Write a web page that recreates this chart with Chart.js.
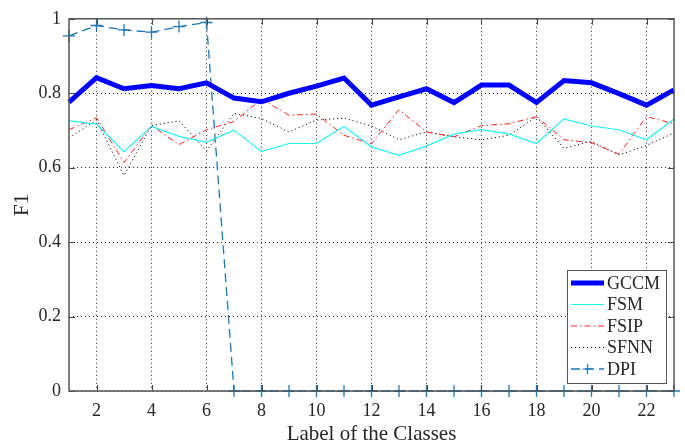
<!DOCTYPE html>
<html>
<head>
<meta charset="utf-8">
<script src="https://cdn.jsdelivr.net/npm/chart.js@4.4.0/dist/chart.umd.min.js"></script>
<style>
  html, body { margin: 0; padding: 0; background: #fff; }
  #wrap { width: 685px; height: 445px; }
</style>
</head>
<body>
<div id="wrap"><canvas id="f1-chart" width="685" height="445"></canvas></div>
<script>
// F1 per class
const classes = [1, 2, 3, 4, 5, 6, 7, 8, 9, 10, 11, 12, 13, 14, 15, 16, 17, 18, 19, 20, 21, 22, 23];
const gccm = [0.776, 0.842, 0.812, 0.821, 0.812, 0.828, 0.787, 0.777, 0.800, 0.819, 0.841, 0.768, 0.790, 0.812, 0.775, 0.822, 0.822, 0.775, 0.834, 0.828, 0.799, 0.768, 0.809];
const fsm = [0.726, 0.717, 0.643, 0.711, 0.684, 0.668, 0.701, 0.643, 0.665, 0.665, 0.711, 0.656, 0.633, 0.658, 0.690, 0.702, 0.691, 0.665, 0.731, 0.712, 0.702, 0.675, 0.731];
const fsip = [0.702, 0.734, 0.614, 0.713, 0.662, 0.702, 0.724, 0.784, 0.741, 0.744, 0.687, 0.664, 0.756, 0.696, 0.683, 0.713, 0.718, 0.737, 0.675, 0.667, 0.636, 0.737, 0.718];
const sfnn = [0.680, 0.728, 0.579, 0.713, 0.726, 0.645, 0.746, 0.732, 0.696, 0.728, 0.733, 0.712, 0.675, 0.696, 0.683, 0.675, 0.687, 0.737, 0.652, 0.671, 0.634, 0.660, 0.693];
const dpi = [0.954, 0.982, 0.970, 0.964, 0.979, 0.990, 0, 0, 0, 0, 0, 0, 0, 0, 0, 0, 0, 0, 0, 0, 0, 0, 0];

const xTicks = [2, 4, 6, 8, 10, 12, 14, 16, 18, 20, 22];
const yTicks = [0, 0.2, 0.4, 0.6, 0.8, 1];

const serif = "'Liberation Serif', 'DejaVu Serif', serif";
const textColor = '#262626';

function points(values) {
    return classes.map((c, i) => ({ x: c, y: values[i] }));
}

// box round the plot, inward ticks, and the legend in the lower right
const framePlugin = {
    id: 'frame',
    afterDraw(chart) {
        const ctx = chart.ctx;
        const a = chart.chartArea;
        const xs = chart.scales.x;
        const ys = chart.scales.y;
        ctx.save();
        ctx.strokeStyle = '#444';
        ctx.lineWidth = 1;
        ctx.beginPath();
        xTicks.forEach(t => {
            const px = Math.round(xs.getPixelForValue(t)) + 0.5;
            ctx.moveTo(px, a.bottom); ctx.lineTo(px, a.bottom - 6);
            ctx.moveTo(px, a.top); ctx.lineTo(px, a.top + 6);
        });
        yTicks.forEach(t => {
            const py = Math.round(ys.getPixelForValue(t)) + 0.5;
            ctx.moveTo(a.left, py); ctx.lineTo(a.left + 6, py);
            ctx.moveTo(a.right, py); ctx.lineTo(a.right - 6, py);
        });
        ctx.stroke();
        ctx.strokeStyle = '#555';
        ctx.lineWidth = 1.5;
        ctx.strokeRect(a.left, a.top, a.right - a.left, a.bottom - a.top);

        // legend
        const boxW = 99, boxH = 113;
        const bx = a.right - 8 - boxW;
        const by = a.bottom - 8 - boxH;
        ctx.fillStyle = '#fff';
        ctx.fillRect(bx, by, boxW, boxH);
        ctx.strokeStyle = '#555';
        ctx.lineWidth = 1;
        ctx.strokeRect(bx + 0.5, by + 0.5, boxW, boxH);
        ctx.font = '18px ' + serif;
        ctx.textBaseline = 'middle';
        chart.data.datasets.forEach((ds, i) => {
            const y = by + 13 + i * 21.5;
            const x0 = bx + 4, x1 = bx + 37;
            ctx.strokeStyle = ds.borderColor;
            ctx.lineWidth = ds.borderWidth;
            ctx.setLineDash(ds.borderDash || []);
            ctx.beginPath();
            ctx.moveTo(x0, y); ctx.lineTo(x1, y);
            ctx.stroke();
            ctx.setLineDash([]);
            if (ds.pointStyle === 'cross') {
                const cx = (x0 + x1) / 2;
                ctx.lineWidth = 1.2;
                ctx.beginPath();
                ctx.moveTo(cx - 5, y); ctx.lineTo(cx + 5, y);
                ctx.moveTo(cx, y - 5); ctx.lineTo(cx, y + 5);
                ctx.stroke();
            }
            ctx.fillStyle = textColor;
            ctx.fillText(ds.label, bx + 40, y + 1);
        });
        ctx.restore();
    }
};

const ctx = document.getElementById('f1-chart').getContext('2d');
const chart = new Chart(ctx, {
    type: 'line',
    data: {
        datasets: [
            { label: 'GCCM', data: points(gccm), borderColor: '#0000ff', borderWidth: 5, pointRadius: 0 },
            { label: 'FSM', data: points(fsm), borderColor: '#22f2f2', borderWidth: 1.2, pointRadius: 0 },
            { label: 'FSIP', data: points(fsip), borderColor: '#ff2020', borderWidth: 1, borderDash: [6, 3, 1.5, 3], pointRadius: 0 },
            { label: 'SFNN', data: points(sfnn), borderColor: '#111', borderWidth: 1, borderDash: [1.2, 2.8], pointRadius: 0 },
            { label: 'DPI', data: points(dpi), borderColor: '#1f77b4', borderWidth: 1.3, borderDash: [9, 5],
              pointStyle: 'cross', pointRadius: 6, pointBorderWidth: 1.3, pointBorderColor: '#1f77b4' }
        ]
    },
    options: {
        responsive: false,
        animation: false,
        clip: 8,
        layout: { padding: { top: 12, right: 11, left: 0, bottom: 0 } },
        elements: { line: { tension: 0, fill: false } },
        plugins: {
            legend: { display: false },
            tooltip: { enabled: false }
        },
        scales: {
            x: {
                type: 'linear',
                min: 1,
                max: 23,
                afterBuildTicks: s => { s.ticks = xTicks.map(v => ({ value: v })); },
                afterFit: s => { s.height = 54; },
                grid: { color: '#222', drawTicks: false, lineWidth: 1 },
                border: { display: false, dash: [1, 3] },
                ticks: { padding: 9, color: textColor, font: { family: serif, size: 18 } },
                title: { display: true, text: 'Label of the Classes', color: textColor,
                         font: { family: serif, size: 21, lineHeight: 1 }, padding: { top: 0, bottom: 0 } }
            },
            y: {
                min: 0,
                max: 1,
                afterBuildTicks: s => { s.ticks = yTicks.map(v => ({ value: v })); },
                afterFit: s => { s.width = 69; },
                grid: { color: '#222', drawTicks: false, lineWidth: 1 },
                border: { display: false, dash: [1, 3] },
                ticks: { padding: 8, color: textColor, font: { family: serif, size: 18 },
                         callback: v => String(Math.round(v * 10) / 10) },
                title: { display: true, text: 'F1', color: textColor,
                         font: { family: serif, size: 21, lineHeight: 1 }, padding: { top: 12, bottom: 0 } }
            }
        }
    },
    plugins: [framePlugin]
});
</script>
</body>
</html>
